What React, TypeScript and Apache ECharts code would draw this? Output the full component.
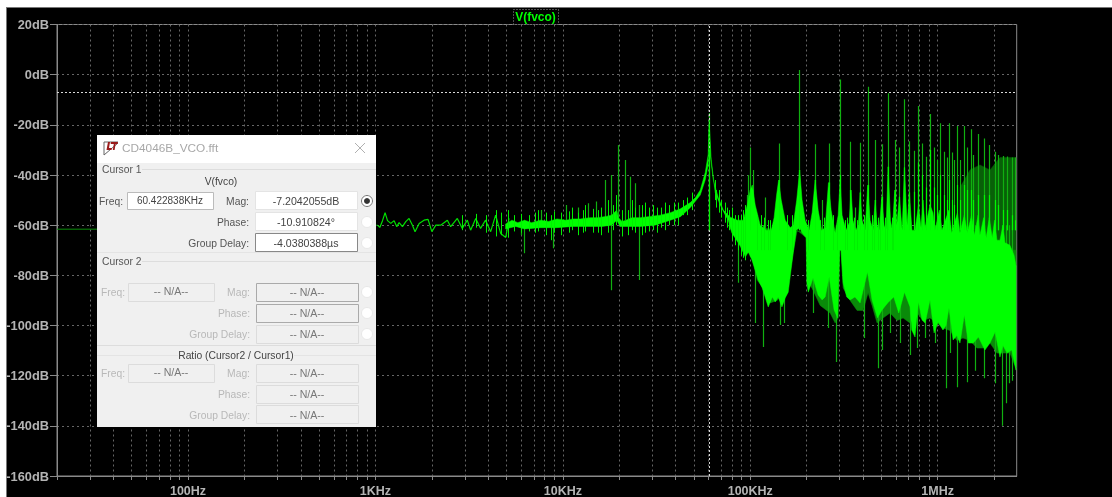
import React, { useEffect, useRef } from "react";
import * as echarts from "echarts";

// ---------- axis ----------
const tickValues = [
  20, 30, 40, 50, 60, 70, 80, 90, 100, 200, 300, 400, 500, 600, 700, 800, 900, 1000, 2000, 3000, 4000, 5000, 6000, 7000,
  8000, 9000, 10000, 20000, 30000, 40000, 50000, 60000, 70000, 80000, 90000, 100000, 200000, 300000, 400000, 500000,
  600000, 700000, 800000, 900000, 1000000, 2000000,
];
const labelValues = [100, 1000, 10000, 100000, 1000000];
const labelTexts = ["100Hz", "1KHz", "10KHz", "100KHz", "1MHz"];
const cursorFreq = 60422.838;
const cursorMag = -7.2042055;

// ---------- thin traces, low frequency end [Hz, dB] ----------
const flatTrace = [[20, -61.6], [60, -61.6], [150, -61.5], [400, -61], [800, -60.5], [1026, -60]];
const lowTrace = [
  [1026, -60], [1055, -60.9], [1091, -58.2], [1126, -55], [1160, -58.2], [1208, -59.3], [1258, -58.2], [1300, -60.6],
  [1338, -59], [1394, -60.6], [1452, -58.6], [1512, -57.3], [1576, -60], [1627, -62.6], [1711, -59.3], [1818, -58],
  [1909, -57.7], [2000, -62.6], [2100, -60], [2230, -60], [2420, -58], [2520, -60.6], [2735, -57.3], [2908, -61.3],
  [3092, -58], [3220, -62], [3430, -57.3], [3640, -61.3], [3870, -58], [4120, -62.6], [4380, -56], [4660, -63.3],
  [4960, -64.9], [5160, -57.3],
];

// ---------- solid body of the spectrum [kHz, dB] ----------
const bodyUpper = [
  [4.95, -59.5], [5.35, -58], [5.75, -59], [6.25, -58], [6.8, -59], [7.6, -58], [8.4, -58.5], [9.3, -57.5], [10.4, -58],
  [11.4, -57.5], [12.4, -57.5], [14, -57], [15.4, -57], [17, -56.5], [18.2, -56], [19.4, -54], [19.8, -57], [20.7, -58.5],
  [21.7, -58], [23.4, -57], [25.9, -57], [29.3, -56.5], [33.1, -56], [37.5, -55], [42.4, -53.5], [47.9, -51], [51, -49],
  [54.1, -46], [57.5, -39], [59.6, -32], [60.42, -18], [61.2, -32], [63.5, -42], [67.5, -49], [71.8, -54], [78.2, -56.8],
  [85.2, -58], [91.8, -58], [96.4, -52], [100, -46], [102.5, -44], [106.3, -52], [113, -60], [121.5, -62], [129.4, -62],
  [134, -57], [138.2, -48], [141.7, -42], [146.3, -50], [153.6, -58], [163.4, -61], [169.5, -60], [176.9, -50], [183.5, -38],
  [189, -50], [196.3, -58], [206.2, -62], [213.9, -55], [222, -42], [230.3, -54], [240.4, -62], [251.1, -61], [261.4, -43],
  [270, -54], [283.7, -63], [294.4, -56], [301.6, -42], [309, -56], [324.8, -62], [337, -59], [345, -46], [353, -58],
  [366, -62], [377.1, -60], [385.5, -47], [395, -58], [410, -62], [423.5, -44], [435.9, -58], [452, -62], [464, -50],
  [475, -60], [487, -62], [503, -48.7], [518, -60], [530, -62], [544, -36.7], [560, -58], [573, -62], [590, -46], [605, -60],
  [625, -48.7], [646, -62], [665, -37], [687, -60], [706, -47], [729, -62], [757, -62], [790, -52], [815, -61], [835, -50],
  [857, -61], [910, -52], [944, -55], [968, -62], [1021, -54], [1054, -62], [1147, -54], [1188, -63], [1275, -55], [1315, -63],
  [1387, -56], [1439, -63], [1516, -56], [1572, -64], [1643, -56], [1681, -64], [1759, -57], [1814, -65], [1884, -57],
  [1955, -65], [2012, -58], [2071, -66], [2149, -66], [2230, -60], [2286, -67], [2430, -68], [2555, -72], [2616, -76],
];
const bodyLower = [
  [4.95, -61.5], [5.6, -60.5], [6.25, -61.5], [7.6, -61], [9.2, -61], [11.4, -60.5], [13.5, -60.5], [16.2, -60.5], [18.2, -60], [19.4, -58],
  [20.2, -60.5], [21.7, -60.5], [25.9, -60.5], [31, -60], [37.5, -58], [42.4, -56.6], [47.9, -53], [54.1, -48], [57.5, -42], [59.6, -36],
  [60.42, -20], [61.9, -34], [65, -47], [69.2, -52], [73.6, -56], [76.3, -58], [79.8, -63.1], [83.1, -65.1], [86.3, -67], [89.3, -68.7],
  [94.1, -72.7], [97.6, -70.7], [102.1, -73.9], [106.3, -78], [110.2, -81.9], [115.8, -85], [120.1, -88.6], [124.7, -92.6], [131.2, -88.6],
  [135.9, -90.6], [141, -88.6], [147.6, -92.6], [153.6, -89], [159.4, -86.7], [169.5, -71], [176, -62], [183.5, -61], [189, -63],
  [198.7, -65], [200.3, -83], [204, -86.7], [216.5, -81], [222, -84], [230.3, -87.9], [241.9, -89.8], [251.1, -88.6], [263.5, -80.7],
  [280, -93.8], [293, -97], [299.5, -70], [305, -70], [312.9, -83], [327, -88.6], [341, -89.8], [362, -88.6], [385.5, -91], [422, -78.7],
  [446.5, -89.8], [477, -97], [505, -93.8], [541, -91], [583, -88.6], [620, -95], [665, -86.7], [712, -92.6], [727, -101.8], [757, -104.6],
  [790, -90.6], [825, -97.8], [857, -99], [910, -89.8], [957, -103], [1006, -98.6], [1067, -101.8], [1108, -100], [1149, -93], [1208, -105.8],
  [1267, -104], [1315, -107], [1387, -95.8], [1457, -107], [1550, -107], [1650, -104.6], [1786, -109.8], [1901, -107], [2025, -102.6],
  [2149, -112.6], [2230, -108], [2345, -111], [2485, -109.8], [2616, -117.8],
];

// ---------- dark fringe under the body [kHz, dB] ----------
const fringeUpper = [[76.3, -60], [2616, -70]];
const fringeLower = [
  [76.3, -60], [85.2, -66], [91.8, -71], [100, -71], [102.5, -73], [109, -82], [117.2, -85], [127.8, -91], [139.2, -90], [149.9, -87],
  [159.4, -83], [169.5, -71], [177.9, -62], [198.7, -65], [206, -83], [216.5, -86], [236, -92], [266.8, -95], [283.7, -99], [294.4, -97],
  [300, -70], [305, -70], [312.9, -85], [341, -90], [371.5, -94], [400, -94], [425.2, -87], [446.5, -92], [475, -99], [511.3, -97],
  [557, -95], [607, -98], [653.6, -97], [712, -99], [775.8, -95], [835, -98], [910, -97], [991.5, -99], [1067, -101], [1163, -102],
  [1267, -106], [1364, -105], [1487, -106], [1620, -109], [1744, -109], [1901, -107], [2071, -111], [2230, -111], [2430, -111], [2616, -117],
];

// ---------- darker wash at the high end [kHz, dB] ----------
const hazeUpper = [[1315, -45], [1487, -38], [1681, -36], [1901, -38], [2149, -33], [2616, -33]];
const hazeLower = [[1315, -64], [1901, -66], [2430, -68], [2616, -76]];

// ---------- harmonics [kHz, top dB, top of bright part dB] ----------
const peaks = [
  [60.42, -15.3, -30], [100, -29, -46], [141.7, -27.4, -42], [181.6, 1.9, -38], [221.6, -27.7, -42], [262, -27.4, -43],
  [302, -1.9, -40], [342, -26.7, -46], [383, -27.1, -47], [423, -4.8, -44], [463, -26, -50], [503, -27.7, -48.7], [544, -7.4, -36.7],
  [590, -26, -46], [625, -29, -48.7], [665, -9.8, -37], [706, -26.5, -47], [745, -30.3, -46.7], [786, -12.5, -35], [828, -27.4, -40],
  [870, -32.7, -45], [906, -15.7, -30], [950, -29, -45], [993, -34, -48], [1025, -19.4, -40], [1075, -30.7, -48], [1115, -33, -50],
  [1149, -19.4, -42], [1188, -31, -50], [1228, -34, -52], [1274, -20.5, -44], [1315, -34, -50], [1387, -20.5, -44], [1430, -29, -46],
  [1505, -21.8, -46], [1550, -32, -50], [1640, -23.7, -48], [1759, -25.4, -48], [1877, -28, -48], [2012, -30.7, -50], [2102, -32, -52],
  [2230, -32.4, -54], [2340, -32.6, -54], [2480, -33, -56], [2600, -33, -58],
];

// ---------- isolated darker strokes [kHz, top dB, bottom dB] ----------
const strokes = [
  [5.95, -58, -64], [6.2, -58, -71.2], [7.6, -54, -60], [8.89, -58, -69.2], [10.43, -52, -60], [11.98, -53, -60], [13.54, -51.3, -60],
  [15.06, -50.6, -60], [16.75, -42, -58], [18.1, -40, -85.9], [19.73, -28, -58], [21.4, -34, -58], [22.95, -40.7, -58], [24.39, -43.3, -58],
  [25.4, -52, -81.9], [85.6, -60, -83], [96, -48, -65], [97.5, -40, -60], [104, -38, -60], [106.3, -60, -99], [116.6, -60, -108.6],
  [120, -49, -64], [144.5, -60, -99.8], [152, -60, -99], [215.6, -60, -95], [241, -50, -64], [261.4, -60, -101], [287, -60, -114.6],
  [362, -53, -64], [402, -60, -105], [481, -60, -117], [503, -60, -109.8], [557, -60, -103], [630, -60, -107], [712, -60, -111.8],
  [775, -60, -109], [857, -60, -105], [968, -60, -107], [1105, -60, -125], [1163, -60, -111], [1275, -60, -124.6], [1440, -60, -122.6],
  [1580, -60, -118], [1770, -60, -121], [2030, -60, -123], [2200, -60, -140], [2320, -60, -131], [2390, -60, -123], [2490, -60, -122],
];

// ---------- bright noise around the body [kHz, top dB, bottom dB] ----------
const noise = [
  [2.9, -56, -62], [3.43, -55.5, -61], [3.87, -56, -63], [4.38, -54, -64.5], [4.66, -55, -64], [5.1, -54, -65], [5.5, -56, -62.5], [6, -55.5, -63],
  [6.6, -56, -62.5], [7.1, -55, -63], [7.4, -54, -62.5], [8.1, -55, -64], [8.6, -56, -66], [9, -54.5, -63], [9.8, -55, -64], [10.8, -54.5, -63],
  [11.2, -53, -62], [12, -55, -64], [12.8, -54, -63], [13.2, -52, -62.5], [14.4, -53.5, -63], [15.4, -54, -63], [16, -53, -64], [17.4, -50, -63],
  [18.6, -52, -62], [19.1, -48, -60], [20.6, -54, -64.5], [22.2, -54, -64], [23.4, -50, -62], [24.2, -53, -63], [26.5, -52, -64], [27.6, -51, -63],
  [28.8, -53, -62.5], [30.4, -52, -62], [31.8, -53, -63], [33.6, -53, -61], [35.2, -51, -62], [37, -52, -60], [39, -51, -60], [41.2, -51, -60],
  [44, -50, -56], [46, -49, -56], [49, -47, -54], [64.6, -42, -50], [66, -46, -53], [68, -46, -55], [70, -50, -57], [73, -51, -59], [75.5, -53, -61],
  [77, -54, -62], [80, -53, -66], [83, -56, -68], [86, -56, -70], [89, -56, -72], [92, -54, -73], [94, -52, -74], [109, -56, -70], [114, -56, -70],
  [118, -57, -70], [124, -58, -70], [128, -58, -70], [158, -56, -70], [166, -56, -70], [204, -58, -70], [236, -58, -70], [246, -57, -70], [276, -56, -70],
  [290, -58, -70], [319, -58, -70], [330, -57, -70], [358, -57, -70], [370, -58, -70], [403, -56, -70], [418, -57, -70], [445, -56, -70], [457, -57, -70],
  [482, -57, -70], [495, -57, -70], [525, -57, -70], [536, -57, -70], [568, -57, -70], [580, -58, -70],
];

// ---------- cursor dialog text ----------
const dialogTitle = "CD4046B_VCO.fft";
const signalName = "V(fvco)";
const cursor1Freq = "60.422838KHz";
const cursor1Values = ["-7.2042055dB", "-10.910824°", "-4.0380388µs"];
const rowLabels = ["Mag:", "Phase:", "Group Delay:"];
const notAvailable = "-- N/A--";

const FONT = '"Liberation Sans", Arial, sans-serif';
const LABEL = 10.3;

function txt(text: string, x: number, y: number, fill: string, size = 11, align = "center", weight = "normal") {
  return {
    type: "text", x, y, z: 110, silent: true,
    style: { text, fill, align, verticalAlign: "middle", fontFamily: FONT, fontSize: size, fontWeight: weight },
  };
}
function box(x: number, y: number, w: number, h: number, fill: string, stroke: string) {
  return { type: "rect", z: 105, silent: true, shape: { x: x + 0.5, y: y + 0.5, width: w, height: h }, style: { fill, stroke, lineWidth: 1 } };
}
function hline(x1: number, x2: number, y: number, stroke: string) {
  return { type: "line", z: 106, silent: true, shape: { x1, y1: y + 0.5, x2, y2: y + 0.5 }, style: { stroke, lineWidth: 1 } };
}
function radio(y: number, selected = false) {
  const out: any[] = [
    { type: "circle", z: 106, silent: true, shape: { cx: 367, cy: y, r: 5.5 }, style: { fill: "#fff", stroke: selected ? "#777" : "#e8e8e8", lineWidth: 1 } },
  ];
  if (selected) out.push({ type: "circle", z: 107, silent: true, shape: { cx: 367, cy: y, r: 3 }, style: { fill: "#333" } });
  return out;
}

function dialog(): any[] {
  const el: any[] = [];
  el.push({ type: "rect", z: 100, silent: true, shape: { x: 97, y: 135, width: 279, height: 292 }, style: { fill: "#f0f0f0" } });
  el.push({ type: "rect", z: 101, silent: true, shape: { x: 97, y: 135, width: 279, height: 28 }, style: { fill: "#ffffff" } });
  el.push({ type: "polyline", z: 106, silent: true, shape: { points: [[118, 142], [104, 142], [104, 155], [118, 143]] }, style: { stroke: "#666", fill: "none", lineWidth: 1 } });
  el.push({ type: "polygon", z: 107, silent: true, shape: { points: [[108, 142], [110, 142], [109, 148], [112, 148], [111.5, 150], [106.5, 150]] }, style: { fill: "#9a1b1b" } });
  el.push({ type: "polygon", z: 107, silent: true, shape: { points: [[111, 142], [118, 142], [117.6, 144], [115.6, 144], [114.6, 150], [112.8, 150], [113.8, 144], [110.6, 144]] }, style: { fill: "#9a1b1b" } });
  el.push(txt(dialogTitle, 122, 148, "#a8a8a8", 11.8, "left"));
  el.push({ type: "line", z: 106, silent: true, shape: { x1: 355, y1: 143, x2: 365, y2: 153 }, style: { stroke: "#b0b0b0", lineWidth: 1 } });
  el.push({ type: "line", z: 106, silent: true, shape: { x1: 365, y1: 143, x2: 355, y2: 153 }, style: { stroke: "#b0b0b0", lineWidth: 1 } });

  el.push(txt("Cursor 1", 102, 169, "#555", LABEL, "left"));
  el.push(hline(142, 376, 169, "#dddddd"));
  el.push(txt(signalName, 221, 181, "#444", LABEL));
  el.push(txt("Freq:", 123, 201, "#555", LABEL, "right"));
  el.push(box(127, 192, 86, 17, "#fff", "#bbb"));
  el.push(txt(cursor1Freq, 170, 200, "#444", 10));
  const ys = [201, 222, 243];
  const tops = [191, 212, 233];
  rowLabels.forEach((l, i) => {
    el.push(txt(l, 249, ys[i], "#555", LABEL, "right"));
    el.push(box(255, tops[i], 102, 18, "#fff", i === 2 ? "#888" : "#e4e4e4"));
    el.push(txt(cursor1Values[i], 306, ys[i], "#444", 10.6));
    el.push(...radio(ys[i], i === 0));
  });
  el.push(hline(97, 376, 252, "#e4e4e4"));
  el.push(txt("Cursor 2", 102, 261, "#555", LABEL, "left"));
  el.push(hline(142, 376, 261, "#dddddd"));

  const disabled = (rowY: number[], boxTops: number[], radios: boolean, strong: boolean) => {
    el.push(txt("Freq:", 125, rowY[0], "#b8b8b8", LABEL, "right"));
    el.push(box(128, boxTops[0], 86, 18, "#f0f0f0", "#dcdcdc"));
    el.push(txt(notAvailable, 171, rowY[0] - 1, "#777", 10.6));
    rowLabels.forEach((l, i) => {
      el.push(txt(l, 250, rowY[i], "#b8b8b8", LABEL, "right"));
      el.push(box(256, boxTops[i], 102, 18, "#f0f0f0", strong && i < 2 ? "#aaaaaa" : "#dcdcdc"));
      el.push(txt(notAvailable, 307, rowY[i], "#777", 10.6));
      if (radios) el.push(...radio(rowY[i]));
    });
  };
  disabled([292, 313, 334], [283, 304, 325], true, true);
  el.push(hline(97, 376, 345, "#dddddd"));
  el.push(hline(97, 376, 355, "#e4e4e4"));
  el.push({ type: "rect", z: 107, silent: true, shape: { x: 178, y: 349, width: 116, height: 12 }, style: { fill: "#f0f0f0" } });
  el.push(txt("Ratio (Cursor2 / Cursor1)", 236, 355, "#444", LABEL));
  disabled([373, 394, 415], [364, 385, 405], false, false);
  return el;
}

export default function App() {
  const ref = useRef<HTMLDivElement>(null);
  useEffect(() => {
    const chart = echarts.init(ref.current!, null, { renderer: "svg" });
    const hz = (rows: number[][]) => rows.map((r) => [r[0] * 1000, ...r.slice(1)]);
    const polygonSeries = (upper: number[][], lower: number[][], color: string, z: number) => ({
      type: "custom",
      z,
      silent: true,
      clip: true,
      data: [[upper[0][0] * 1000, upper[0][1]]],
      encode: { x: 0, y: 1 },
      renderItem: (_: any, api: any) => {
        const pts = [...hz(upper), ...hz(lower).reverse()].map((p) => api.coord([p[0], p[1]]));
        return { type: "polygon", shape: { points: pts }, style: { fill: color, stroke: color, lineWidth: 0.5 } };
      },
    });
    const strokeSeries = (rows: number[][], color: string, z: number, width = 1) => ({
      type: "custom",
      z,
      silent: true,
      clip: true,
      data: hz(rows),
      encode: { x: 0, y: 1 },
      renderItem: (_: any, api: any) => {
        const a = api.coord([api.value(0), api.value(1)]);
        const b = api.coord([api.value(0), api.value(2)]);
        const x = Math.round(a[0]) + 0.5;
        return { type: "line", shape: { x1: x, y1: a[1], x2: x, y2: b[1] }, style: { stroke: color, lineWidth: width } };
      },
    });
    chart.setOption({
      animation: false,
      backgroundColor: "transparent",
      textStyle: { fontFamily: FONT },
      grid: { show: true, left: 57, top: 24.5, width: 959.7, height: 451.5, containLabel: false, borderColor: "#8a8a8a", borderWidth: 1, backgroundColor: "transparent" },
      xAxis: {
        type: "log",
        logBase: 10,
        min: 20,
        max: 2640000,
        axisLine: { show: true, onZero: false, lineStyle: { color: "#8a8a8a", width: 1 } },
        axisTick: { show: true, length: 4, customValues: tickValues, lineStyle: { color: "#8a8a8a" } },
        axisLabel: {
          customValues: labelValues,
          color: "#b4b4b4",
          fontWeight: "bold",
          fontSize: 12.5,
          margin: 8,
          formatter: (v: number) => labelTexts[labelValues.indexOf(Math.round(v))] ?? "",
        },
        splitLine: { show: true, lineStyle: { color: "#666666", type: [2, 3], width: 1 } },
        minorTick: { show: false },
        minorSplitLine: { show: false },
      },
      yAxis: {
        type: "value",
        min: -160,
        max: 20,
        interval: 20,
        axisLine: { show: true, onZero: false, lineStyle: { color: "#8a8a8a", width: 1 } },
        axisTick: { show: true, length: 7, lineStyle: { color: "#8a8a8a" } },
        axisLabel: { color: "#b4b4b4", fontWeight: "bold", fontSize: 12.8, margin: 8, formatter: "{value}dB" },
        splitLine: { show: true, lineStyle: { color: "#666666", type: [2, 3], width: 1 } },
      },
      series: [
        {
          type: "line",
          z: 3,
          silent: true,
          showSymbol: false,
          data: flatTrace,
          lineStyle: { color: "#0a8f0a", width: 1 },
          markLine: {
            silent: true,
            symbol: "none",
            label: { show: false },
            lineStyle: { color: "#d8d8d8", type: [2, 2], width: 1 },
            data: [{ xAxis: cursorFreq }, { yAxis: cursorMag }],
          },
        },
        { type: "line", z: 3, silent: true, showSymbol: false, data: lowTrace, lineStyle: { color: "#00e000", width: 1.2 } },
        polygonSeries(hazeUpper, hazeLower, "#086008", 3),
        polygonSeries(fringeUpper, fringeLower, "#0a8a0a", 3),
        strokeSeries(strokes, "#10b010", 4, 1.2),
        strokeSeries(peaks.map((p) => [p[0], p[1], -62]), "#10b010", 4, 1.2),
        polygonSeries(bodyUpper, bodyLower, "#00ff00", 5),
        strokeSeries(noise, "#00f000", 6),
        strokeSeries(peaks.map((p) => [p[0], p[2], -62]), "#00f800", 6, 1.2),
      ],
      graphic: [
        {
          type: "rect", z: 90, silent: true,
          shape: { x: 513.5, y: 9.5, width: 45, height: 15 },
          style: { fill: "#000", stroke: "#9a9a9a", lineWidth: 1, lineDash: [1, 2] },
        },
        { ...txt(signalName, 535.5, 17, "#00ff00", 12, "center", "bold"), z: 91 },
        ...dialog(),
      ],
    });
    return () => chart.dispose();
  }, []);
  return (
    <div style={{ position: "fixed", left: 0, top: 0, width: 1112, height: 497, background: "#fff", overflow: "hidden" }}>
      <div style={{ position: "absolute", left: 6, top: 7, width: 1106, height: 490, background: "#000", boxSizing: "border-box", borderLeft: "1px solid #777", borderTop: "1px solid #777" }} />
      <div ref={ref} style={{ position: "absolute", left: 0, top: 0, width: 1112, height: 497, filter: "blur(0.4px)" }} />
    </div>
  );
}
